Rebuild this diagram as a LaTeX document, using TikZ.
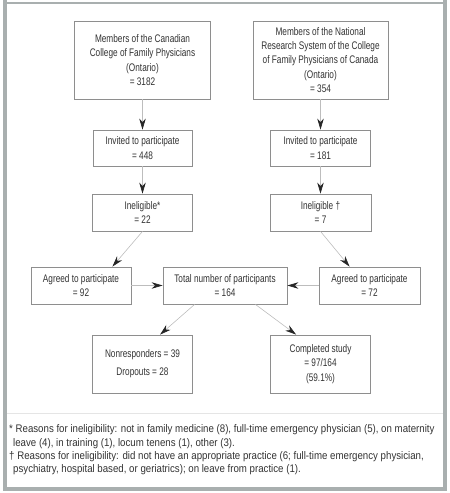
\documentclass[tikz,border=0pt]{standalone}
\usepackage{fontspec}
\setmainfont{Liberation Sans}[FakeStretch=0.75]
\newfontfamily\notefont{Liberation Sans}[FakeStretch=0.88]
\usetikzlibrary{arrows.meta}

\definecolor{framegray}{HTML}{A9AFAF}
\definecolor{boxgray}{HTML}{8E8E8E}
\definecolor{linegray}{HTML}{BDBDBD}
\definecolor{textgray}{HTML}{333333}

\begin{document}
\begin{tikzpicture}[x=1pt,y=-1pt,
	stage/.style={draw=boxgray,line width=0.8pt,fill=white,align=center,inner sep=0pt,
		font=\fontsize{11}{14.3}\selectfont,text=textgray},
	flow/.style={draw=linegray,line width=0.6pt,
		-{Stealth[length=11pt,width=6.5pt,inset=3.5pt,color=black!85]}},
	note/.style={anchor=north west,align=left,inner sep=0pt,
		font=\notefont\fontsize{11}{13.4}\selectfont,text=textgray}]
\useasboundingbox (0,0) rectangle (450,493);

% frame
\fill[framegray] (3,0) rectangle (7,491);
\fill[framegray] (443,0) rectangle (447,491);
\fill[framegray] (3,487) rectangle (447,491);
\draw[framegray,line width=1.2pt] (7,3) -- (443,3);
\draw[black!10,line width=0.6pt] (7,413) -- (443,413);

\path (142.5,60) node[stage,minimum width=136pt,minimum height=78pt] (cmembers)
			{Members of the Canadian\\College of Family Physicians\\(Ontario)\\= 3182}
		(320.5,60) node[stage,minimum width=135pt,minimum height=78pt] (nmembers)
			{Members of the National\\Research System of the College\\of Family Physicians of Canada\\(Ontario)\\= 354}
		(142.5,148) node[stage,minimum width=99pt,minimum height=36pt] (cinvited)
			{Invited to participate\\= 448}
		(320.5,148) node[stage,minimum width=100pt,minimum height=36pt] (ninvited)
			{Invited to participate\\= 181}
		(142.5,212.5) node[stage,minimum width=100pt,minimum height=37pt] (cinelig)
			{Ineligible*\\= 22}
		(320.5,212.5) node[stage,minimum width=101pt,minimum height=37pt] (ninelig)
			{Ineligible \textdagger\\= 7}
		(81,285.5) node[stage,minimum width=100pt,minimum height=37pt] (cagreed)
			{Agreed to participate\\= 92}
		(225,285.5) node[stage,minimum width=124pt,minimum height=37pt] (total)
			{Total number of participants\\= 164}
		(369.5,285.5) node[stage,minimum width=101pt,minimum height=37pt] (nagreed)
			{Agreed to participate\\= 72}
		(142.5,364) node[stage,minimum width=100pt,minimum height=58pt,
			font=\fontsize{11}{18}\selectfont] (dropped)
			{Nonresponders = 39\\Dropouts = 28}
		(320.5,364) node[stage,minimum width=100pt,minimum height=58pt] (completed)
			{Completed study\\= 97/164\\(59.1\%)}
		;

\draw[flow] (cmembers) -- (cinvited);
\draw[flow] (nmembers) -- (ninvited);
\draw[flow] (cinvited) -- (cinelig);
\draw[flow] (ninvited) -- (ninelig);
\draw[flow] (cinelig.south) -- ([xshift=-19pt]cagreed.north east);
\draw[flow] (ninelig.south) -- ([xshift=31pt]nagreed.north west);
\draw[flow] (cagreed) -- (total);
\draw[flow] (nagreed) -- (total);
\draw[flow] ([xshift=32pt]total.south west) -- ([xshift=68pt]dropped.north west);
\draw[flow] ([xshift=-32pt]total.south east) -- ([xshift=26pt]completed.north west);

% footnotes
\path (9,424.5) node[note] (inelignote)
			{* Reasons for ineligibility: not in family medicine (8), full-time emergency physician (5), on maternity\\
			\hspace*{4pt}leave (4), in training (1), locum tenens (1), other (3).\\
			\textdagger{} Reasons for ineligibility: did not have an appropriate practice (6; full-time emergency physician,\\
			\hspace*{4pt}psychiatry, hospital based, or geriatrics); on leave from practice (1).};
\end{tikzpicture}
\end{document}
